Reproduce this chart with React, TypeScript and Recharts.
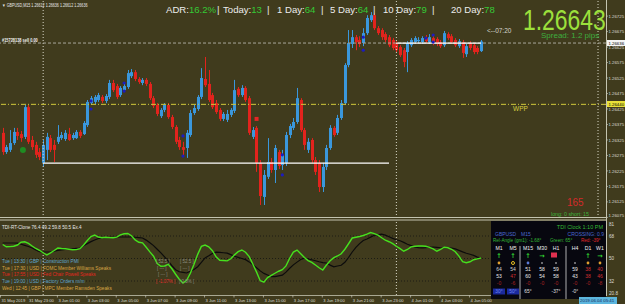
import React from "react";
import {
  ComposedChart,
  LineChart,
  Bar,
  Line,
  Scatter,
  XAxis,
  YAxis,
  ReferenceLine,
} from "recharts";

// GBPUSD M15 bars, 31 May 21:15 .. 4 Jun 05:45
const open = [
  1.26348, 1.26286, 1.26293, 1.26315, 1.26351, 1.26344, 1.26335, 1.26431, 1.26325, 1.26309,
  1.26286, 1.26251, 1.26293, 1.26331, 1.26309, 1.26319, 1.26331, 1.26328, 1.26344, 1.26331,
  1.26331, 1.26351, 1.26344, 1.26373, 1.26444, 1.26448, 1.26454, 1.26464, 1.26451, 1.26464,
  1.26509, 1.26499, 1.2647, 1.26486, 1.26496, 1.26531, 1.26544, 1.26522, 1.26509, 1.26519,
  1.26506, 1.2646, 1.26438, 1.26402, 1.26422, 1.26438, 1.26399, 1.26367, 1.26325, 1.26302,
  1.26299, 1.26341, 1.26412, 1.26425, 1.26464, 1.26522, 1.26506, 1.2647, 1.26444, 1.26422,
  1.26393, 1.2639, 1.26406, 1.26419, 1.2649, 1.2647, 1.26493, 1.2646, 1.26335, 1.26364,
  1.26251, 1.26141, 1.26206, 1.26254, 1.26228, 1.26286, 1.26244, 1.26251, 1.26341, 1.26364,
  1.26383, 1.26454, 1.26357, 1.26293, 1.26325, 1.2626, 1.26251, 1.26173, 1.26238, 1.26299,
  1.26364, 1.26348, 1.26396, 1.26444, 1.26567, 1.26635, 1.26657, 1.26648, 1.26638, 1.2667,
  1.26712, 1.26728, 1.26686, 1.2668, 1.26667, 1.26657, 1.26648, 1.26638, 1.26625, 1.26615,
  1.26609, 1.26631, 1.26641, 1.26644, 1.26641, 1.26654, 1.26641, 1.26654, 1.26651, 1.26641,
  1.26631, 1.26667, 1.2666, 1.26648, 1.26628, 1.26641, 1.26602, 1.26638, 1.26631, 1.26622,
  1.26612,
];
const high = [
  1.26364, 1.26309, 1.26357, 1.26364, 1.26364, 1.26354, 1.26438, 1.26438, 1.26338, 1.26319,
  1.26299, 1.26325, 1.26348, 1.26341, 1.26325, 1.26373, 1.26351, 1.26357, 1.26364, 1.26348,
  1.26357, 1.26357, 1.26386, 1.26454, 1.26467, 1.2647, 1.26477, 1.2647, 1.26473, 1.26519,
  1.26519, 1.26506, 1.26499, 1.26506, 1.26551, 1.26554, 1.26551, 1.26528, 1.26525, 1.26525,
  1.26512, 1.26467, 1.26444, 1.26428, 1.26444, 1.26444, 1.26406, 1.26373, 1.26335, 1.26319,
  1.26357, 1.26422, 1.26438, 1.2647, 1.26557, 1.26593, 1.26551, 1.26477, 1.26454, 1.26428,
  1.26415, 1.26422, 1.26428, 1.26519, 1.26496, 1.26502, 1.26499, 1.26467, 1.26367, 1.2637,
  1.2626, 1.26228, 1.26331, 1.26267, 1.26309, 1.26293, 1.26293, 1.26351, 1.26377, 1.26396,
  1.26493, 1.2646, 1.26364, 1.26331, 1.26331, 1.2627, 1.2626, 1.26251, 1.26309, 1.26373,
  1.2637, 1.26406, 1.26454, 1.26573, 1.2668, 1.2668, 1.26664, 1.2666, 1.26686, 1.26728,
  1.26738, 1.26735, 1.26693, 1.26686, 1.26673, 1.26664, 1.26654, 1.26644, 1.26631, 1.26622,
  1.26644, 1.26654, 1.2666, 1.26657, 1.2666, 1.26664, 1.26667, 1.2666, 1.26657, 1.26648,
  1.26677, 1.26673, 1.26667, 1.26654, 1.26651, 1.26648, 1.26635, 1.26644, 1.26638, 1.26628,
  1.26648,
];
const low = [
  1.26277, 1.2628, 1.26286, 1.26309, 1.26325, 1.26319, 1.26328, 1.26312, 1.26293, 1.26267,
  1.2626, 1.26238, 1.2626, 1.26286, 1.26254, 1.26312, 1.26325, 1.26322, 1.26322, 1.26325,
  1.26328, 1.26331, 1.26341, 1.26367, 1.26438, 1.26441, 1.26448, 1.26444, 1.26444, 1.26457,
  1.2648, 1.26457, 1.26464, 1.2648, 1.2649, 1.26525, 1.26515, 1.26506, 1.26502, 1.26499,
  1.26454, 1.26428, 1.26402, 1.26396, 1.26415, 1.26393, 1.2636, 1.26312, 1.26293, 1.26273,
  1.26267, 1.26335, 1.26406, 1.26419, 1.26457, 1.26496, 1.26448, 1.26425, 1.26409, 1.26386,
  1.26386, 1.26383, 1.26399, 1.26412, 1.26464, 1.26464, 1.26448, 1.26341, 1.26328, 1.26222,
  1.26115, 1.26115, 1.26199, 1.26219, 1.26186, 1.26231, 1.26228, 1.26241, 1.26331, 1.26357,
  1.26377, 1.26351, 1.26293, 1.26283, 1.26251, 1.26212, 1.26157, 1.26157, 1.26228, 1.26293,
  1.26335, 1.26341, 1.2639, 1.26438, 1.2656, 1.26622, 1.26615, 1.26625, 1.26628, 1.26664,
  1.26706, 1.2668, 1.26664, 1.26648, 1.26641, 1.26625, 1.26615, 1.26609, 1.26593, 1.2656,
  1.26544, 1.26625, 1.26635, 1.26638, 1.26635, 1.26638, 1.26635, 1.26631, 1.26628, 1.26622,
  1.26625, 1.26648, 1.26635, 1.26625, 1.26622, 1.2659, 1.26593, 1.26615, 1.26602, 1.26602,
  1.26609,
];
const close = [
  1.26286, 1.26302, 1.26315, 1.26351, 1.26338, 1.26331, 1.26431, 1.26319, 1.26302, 1.26277,
  1.2627, 1.26309, 1.26335, 1.26293, 1.26293, 1.26335, 1.26341, 1.26348, 1.26325, 1.26341,
  1.26351, 1.26338, 1.2638, 1.26448, 1.2646, 1.26464, 1.2647, 1.26451, 1.26467, 1.26509,
  1.26486, 1.26464, 1.26493, 1.26499, 1.26541, 1.26544, 1.26522, 1.26512, 1.26519, 1.26506,
  1.2646, 1.26435, 1.26409, 1.26422, 1.26438, 1.26399, 1.26367, 1.26319, 1.26302, 1.26293,
  1.26348, 1.26412, 1.26428, 1.26464, 1.26525, 1.26502, 1.26454, 1.26431, 1.26415, 1.26393,
  1.26409, 1.26409, 1.26422, 1.26486, 1.2647, 1.26493, 1.26454, 1.26348, 1.26357, 1.26251,
  1.26144, 1.26212, 1.26254, 1.26228, 1.26299, 1.26241, 1.26277, 1.26341, 1.2637, 1.26383,
  1.2646, 1.26357, 1.26309, 1.26319, 1.2626, 1.26222, 1.26173, 1.26238, 1.26299, 1.26364,
  1.26341, 1.26396, 1.26444, 1.26567, 1.26638, 1.26657, 1.26641, 1.26635, 1.2667, 1.26719,
  1.26728, 1.26686, 1.2667, 1.26657, 1.26648, 1.26631, 1.26622, 1.26615, 1.26599, 1.26577,
  1.26638, 1.26648, 1.26654, 1.26648, 1.26654, 1.26644, 1.26657, 1.26638, 1.26635, 1.26628,
  1.2667, 1.26654, 1.26641, 1.26631, 1.26644, 1.26606, 1.26628, 1.26622, 1.26609, 1.26609,
  1.26643,
];

// TDI sub window: price line (green) and signal (black)
const tdiGreen = [
  61.2, 59.4, 59.5, 59.8, 60.8, 63.0, 63.4, 62.1, 60.0, 58.0,
  56.6, 54.6, 52.8, 54.5, 56.4, 58.4, 58.0, 57.8, 57.4, 57.0,
  57.1, 57.9, 60.8, 64.4, 67.5, 68.7, 67.2, 66.6, 67.0, 66.7,
  66.6, 67.1, 68.9, 69.8, 70.0, 68.2, 64.9, 63.0, 62.5, 59.0,
  55.3, 51.8, 45.9, 43.8, 44.0, 45.3, 41.8, 37.4, 33.4, 30.4,
  32.6, 38.2, 45.4, 53.3, 59.7, 60.8, 59.4, 56.2, 51.4, 48.6,
  48.4, 48.1, 49.8, 52.9, 55.5, 56.8, 55.0, 51.5, 45.4, 39.1,
  32.2, 31.0, 34.7, 36.5, 38.2, 39.8, 41.1, 44.1, 50.2, 55.1,
  56.7, 53.8, 50.8, 48.3, 46.9, 44.8, 42.6, 40.8, 44.8, 48.2,
  50.7, 52.0, 53.8, 57.4, 61.8, 66.4, 67.0, 67.6, 68.4, 69.5,
  70.8, 69.9, 68.7, 66.6, 64.6, 63.4, 61.9, 59.8, 57.9, 55.8,
  57.2, 59.3, 59.8, 60.0, 60.0, 59.8, 58.9, 57.7, 55.8, 57.2,
  59.0, 58.6, 57.4, 55.4, 51.9, 47.4, 46.6, 47.4, 49.0, 49.7,
  50.4,
];
const tdiSignal = [
  62.4, 62.4, 62.4, 62.4, 62.3, 61.4, 60.5, 59.6, 58.4, 56.9,
  55.4, 55.2, 55.2, 55.3, 55.8, 56.5, 56.9, 57.2, 57.5, 57.8,
  58.1, 58.4, 60.2, 61.9, 63.5, 64.8, 66.0, 66.5, 66.6, 66.8,
  67.0, 67.2, 67.2, 67.2, 67.2, 67.2, 67.0, 66.7, 66.4, 64.7,
  62.6, 60.3, 57.4, 54.5, 51.3, 47.8, 44.2, 41.0, 39.4, 38.9,
  38.4, 39.8, 41.2, 43.4, 46.9, 50.5, 52.2, 54.0, 55.1, 54.9,
  54.6, 54.3, 53.1, 51.8, 50.9, 50.0, 49.1, 47.3, 45.0, 42.6,
  40.1, 38.1, 36.8, 35.5, 35.5, 36.1, 36.7, 39.1, 42.2, 44.9,
  47.1, 49.2, 50.2, 49.6, 49.0, 48.2, 47.4, 46.7, 46.4, 44.7,
  43.3, 44.0, 44.6, 47.0, 50.8, 55.2, 58.9, 61.9, 64.4, 65.6,
  67.1, 68.6, 69.1, 69.5, 68.7, 67.4, 66.1, 65.0, 64.2, 62.9,
  61.4, 60.3, 59.2, 58.7, 58.5, 58.6, 59.0, 59.2, 58.9, 58.6,
  58.4, 58.4, 58.4, 57.7, 56.5, 55.3, 54.2, 53.4, 52.5, 51.1,
  50.4,
];

// fractal dots (bar index, price)
const fractalIdx = [24, 24, 33, 33, 49, 49, 76, 76, 98, 98, 115, 117, 117];
const fractalPrice = [
  1.26451, 1.26425, 1.26509, 1.26483, 1.26338, 1.26273, 1.26277, 1.26212, 1.26657, 1.26615,
  1.26654, 1.26664, 1.26641,
];

const timeTicks = [0, 7, 15, 23, 31, 39, 47, 55, 63, 71, 79, 87, 95, 103, 111, 119, 127];
const timeLabels = [
  "31 May 2019", "31 May 23:00", "3 Jun 01:00", "3 Jun 03:00", "3 Jun 05:00", "3 Jun 07:00",
  "3 Jun 09:00", "3 Jun 11:00", "3 Jun 13:00", "3 Jun 15:00", "3 Jun 17:00", "3 Jun 19:00",
  "3 Jun 21:00", "3 Jun 23:00", "4 Jun 01:00", "4 Jun 03:00", "4 Jun 05:00",
];
const priceTicks = [
  1.26725, 1.26675, 1.26625, 1.26575, 1.26525, 1.26475, 1.26425, 1.26375, 1.26325, 1.26275,
  1.26225, 1.26175, 1.26125, 1.26075,
];
const tdiTicks = [80.8, 68, 50, 32, 20.8];
const tdiTickLabels = ["81", "68", "50", "32", "20.8"];

const newsText = [
  "Tue  |  13:30  |  GBP  |  Construction PMI",
  "Tue  |  17:30  |  USD  |  FOMC Member Williams Speaks",
  "Tue  |  17:55  |  USD  |  Fed Chair Powell Speaks",
  "Tue  |  19:00  |  USD  |  Factory Orders m/m",
  "Wed  |  12:45  |  GBP  |  MPC Member Ramsden Speaks",
];
const newsColor = ["#5fa6d0", "#d9a544", "#e2261f", "#5fa6d0", "#d9a544"];

const adrLabels = ["ADR:", "Today:", "1 Day:", "5 Day:", "10 Day:", "20 Day:"];
const adrValues = ["16.2%", "13", "64", "64", "79", "78"];
const adrX = [166, 223, 277, 330, 383, 451];
const adrBarX = [217, 267, 321, 373, 432];

const tfCols = ["M1", "M5", "M15", "M30", "H1", "H4", "D1", "W1"];
const tfX = [499, 513, 528, 542, 556, 575, 588, 600];
const tfArrow = ["↑", "↑", "↑", "→", "", "", "↑", "→"];
const tfDot = ["#e0a030", "ring", "#5a7ad8", "#e8e8e8", "#e8e8e8", "#e8e8e8", "#e0a030", "#e0a030"];
const tfRowA = ["64", "54", "51", "58", "59", "59", "38", "40"];
const tfRowAColor = ["#d0d0d0", "#d0d0d0", "#e8e8e8", "#e8e8e8", "#e8e8e8", "#e8e8e8", "#d03030", "#d03030"];
const tfRowB = ["53", "47", "60", "54", "58", "43", "38", "46"];
const tfRowBColor = ["#e8e8e8", "#d03030", "#e8e8e8", "#e8e8e8", "#e8e8e8", "#e8e8e8", "#d03030", "#d03030"];
const tfRowC = ["-0", "-6", "-0", "-0", "-0", "-0", "-0", "-8"];
const tfRowD = ["30°", "50°", "65°", "", "-37°", "-0°", "", ""];

const BG = "#403b1d";
const BULL = "#3a97dc";
const BEAR = "#e2231d";
const AXIS = "#dcdcd4";
const FONT = "'Liberation Sans', Arial, sans-serif";
const XDOM: [number, number] = [-0.73, 163.97];

const candles = open.map((o, i) => ({ i, open: o, high: high[i], low: low[i], close: close[i] }));
const tdi = tdiGreen.map((g, i) => ({ i, green: g, signal: tdiSignal[i] }));
const fractals = fractalIdx.map((i, k) => ({ i, p: fractalPrice[k] }));
const greenDot = [{ i: 5.5, p: 1.26293 }];
const redMark = [{ i: 69, p: 1.26393 }];

const Candle = (props: any) => {
  const { x, y, width, height, payload } = props;
  if (!payload) return null;
  const up = payload.close >= payload.open;
  const color = up ? BULL : BEAR;
  const cx = Math.round(x + width / 2);
  const span = payload.high - payload.low;
  const k = span > 0 ? height / span : 0;
  const top = y + (payload.high - Math.max(payload.open, payload.close)) * k;
  const bot = y + (payload.high - Math.min(payload.open, payload.close)) * k;
  return (
    <g>
      <line x1={cx + 0.5} x2={cx + 0.5} y1={y} y2={y + height} stroke={color} strokeWidth={1} />
      <rect x={cx - 1} y={top} width={3} height={Math.max(1, bot - top)} fill={color} />
    </g>
  );
};

const PriceTick = (props: any) => {
  const { y, payload } = props;
  const last = payload.value === priceTicks[priceTicks.length - 1];
  return (
    <g>
      <line x1={606} x2={608} y1={y} y2={y} stroke={AXIS} strokeWidth={0.6} />
      <text x={608.5} y={last ? y : y + 1.6} fontSize={4.3} fill={AXIS} fontFamily={FONT}>
        {Number(payload.value).toFixed(5)}
      </text>
    </g>
  );
};

const TdiTick = (props: any) => {
  const { y, payload } = props;
  const k = tdiTicks.indexOf(payload.value);
  const dy = k === 0 ? 5.5 : k === tdiTicks.length - 1 ? -0.5 : 1.8;
  return (
    <text x={609} y={y + dy} fontSize={4.6} fill={AXIS} fontFamily={FONT}>
      {tdiTickLabels[k]}
    </text>
  );
};

const TimeTick = (props: any) => {
  const { x, payload } = props;
  const k = timeTicks.indexOf(payload.value);
  const lx = k === 0 ? 0.5 : x - 0.5;
  return (
    <g>
      <line x1={lx} x2={lx} y1={77} y2={79.5} stroke={AXIS} strokeWidth={0.6} />
      <text x={lx + 1} y={84} fontSize={4.1} fill={AXIS} fontFamily={FONT}>
        {timeLabels[k]}
      </text>
    </g>
  );
};

const Overlay = () => (
  <svg width={625} height={304} style={{ position: "absolute", left: 0, top: 0, pointerEvents: "none" }}>
    {/* frame */}
    <line x1={0} x2={606} y1={217.5} y2={217.5} stroke="#c4c4b0" strokeWidth={1} />
    <line x1={0} x2={606} y1={220} y2={220} stroke="#c4c4b0" strokeWidth={1} />
    <line x1={0} x2={606} y1={295.5} y2={295.5} stroke="#c4c4b0" strokeWidth={0.8} />
    <line x1={606.5} x2={606.5} y1={0} y2={296} stroke="#c4c4b0" strokeWidth={1} />

    {/* header */}
    <text transform="translate(2,6.5) scale(0.8,1)" fontSize={4.6} fill="#e8e8e8" fontFamily={FONT}>
      ▼ GBPUSD,M15  1.26612 1.26636 1.26612 1.26636
    </text>
    <text transform="translate(2,41.5) scale(0.85,1)" fontSize={4.6} fontWeight="bold" fill="#f0f0f0" fontFamily={FONT}>
      #15728138 sell 0.00
    </text>
    {adrLabels.map((l, k) => (
      <text key={l} x={adrX[k]} y={12.5} fontSize={9.6} fill="#ececec" fontFamily={FONT}>
        {l}
        <tspan fill="#35c935">{adrValues[k]}</tspan>
      </text>
    ))}
    {adrBarX.map((x, k) => (
      <text key={k} x={x} y={12.5} fontSize={9.6} fill="#ececec" fontFamily={FONT}>|</text>
    ))}
    <text transform="translate(523,30) scale(0.79,1)" fontSize={29} fill="#9ce03c" fontFamily={FONT}>
      1.26643
    </text>
    <text x={541} y={37.5} fontSize={8} fill="#3eae3e" fontFamily={FONT}>Spread: 1.2 pips</text>
    <text x={487} y={33} fontSize={6.5} fill="#d4d4cc" fontFamily={FONT}>{"<--07:20"}</text>

    <text x={513} y={110.5} fontSize={6.5} fill="#d8d040" fontFamily={FONT}>WPP</text>
    <text x={567} y={206} fontSize={10} fill="#d42a2a" fontFamily={FONT}>165</text>
    <text x={551} y={216} fontSize={5.3} fill="#3cb43c" fontFamily={FONT}>long: 0  short: 15</text>

    {/* axis tags */}
    <rect x={607} y={40} width={18} height={6} fill="#f4f4f4" />
    <text x={608.5} y={44.6} fontSize={4.3} fill="#000" fontFamily={FONT}>1.26636</text>
    <rect x={607} y={101} width={18} height={6} fill="#e8e038" />
    <text x={608.5} y={105.6} fontSize={4.3} fill="#000" fontFamily={FONT}>1.26440</text>

    {/* sub window */}
    <text x={2} y={228.5} fontSize={4.6} fill="#e8e8e8" fontFamily={FONT}>TDI-RT-Clone 76.4 49.2 59.8 50.5 Ex.4</text>
    {newsText.map((t, k) => (
      <text key={k} x={2} y={263 + k * 6.7} fontSize={4.7} fill={newsColor[k]} fontFamily={FONT}>{t}</text>
    ))}
    <text x={156} y={263} fontSize={4.5} fill="#8c8c80" fontFamily={FONT}>[ 52.5 ]</text>
    <text x={180} y={263} fontSize={4.5} fill="#8c8c80" fontFamily={FONT}>[ 52.5 ]</text>
    <text x={157} y={269.7} fontSize={4.5} fill="#8c8c80" fontFamily={FONT}>[ --- ]</text>
    <text x={180} y={269.7} fontSize={4.5} fill="#8c8c80" fontFamily={FONT}>[ --- ]</text>
    <text x={158} y={276.4} fontSize={4.5} fill="#8c8c80" fontFamily={FONT}>[ --- ]</text>
    <text x={156} y={283.1} fontSize={4.5} fill="#e03030" fontFamily={FONT}>[ -1.07% ]</text>
    <text x={179} y={283.1} fontSize={4.5} fill="#8c8c80" fontFamily={FONT}>[ 0.5% ]</text>

    {/* TDI clock box */}
    <rect x={491} y={221} width={115} height={78} fill="#07070f" />
    <text x={603} y={229} fontSize={5.5} fill="#34b834" fontFamily={FONT} textAnchor="end">TDI Clock 1:10 PM</text>
    <text x={495} y={236} fontSize={5} fill="#4a68d0" fontFamily={FONT}>GBPUSD</text>
    <text x={521} y={236} fontSize={5} fill="#4a68d0" fontFamily={FONT}>M15</text>
    <text x={604} y={236} fontSize={5} fill="#4a68d0" fontFamily={FONT} textAnchor="end">CROSSING: 0.9</text>
    <text x={493} y={242} fontSize={4.6} fill="#34b834" fontFamily={FONT}>Rel-Angle (gm1): -1.68°</text>
    <text x={550} y={242} fontSize={4.6} fill="#34b834" fontFamily={FONT}>Green: 65°</text>
    <text x={581} y={242} fontSize={4.6} fill="#e02828" fontFamily={FONT}>Red: -39°</text>
    <line x1={520} x2={520} y1={246} y2={299} stroke="#d8d8d8" strokeWidth={0.8} />
    <line x1={566} x2={566} y1={246} y2={299} stroke="#d8d8d8" strokeWidth={0.8} />
    {tfCols.map((c, k) => (
      <g key={c}>
        <text x={tfX[k]} y={250} fontSize={5.2} fill="#f0f0f0" fontFamily={FONT} textAnchor="middle">{c}</text>
        {tfArrow[k] ? (
          <text x={tfX[k]} y={258} fontSize={6.5} fill="#2fd02f" fontFamily="'DejaVu Sans', sans-serif" fontWeight="bold" textAnchor="middle">{tfArrow[k]}</text>
        ) : null}
        {tfDot[k] === "ring" ? (
          <circle cx={tfX[k]} cy={263} r={1.5} fill="none" stroke="#e8c020" strokeWidth={1} />
        ) : (
          <circle cx={tfX[k]} cy={263} r={k >= 3 && k <= 5 ? 0.8 : 1.4} fill={tfDot[k]} />
        )}
        <text x={tfX[k]} y={271} fontSize={5} fill={tfRowAColor[k]} fontFamily={FONT} textAnchor="middle">{tfRowA[k]}</text>
        <text x={tfX[k]} y={278} fontSize={5} fill={tfRowBColor[k]} fontFamily={FONT} textAnchor="middle">{tfRowB[k]}</text>
        <text x={tfX[k]} y={285} fontSize={5} fill="#a82222" fontFamily={FONT} textAnchor="middle">{tfRowC[k]}</text>
        {k < 2 ? <rect x={tfX[k] - 6} y={288.5} width={12} height={6} fill="#1b2a9c" /> : null}
        <text x={tfX[k]} y={293} fontSize={4.8} fill={k < 2 ? "#6d86ee" : "#e0e0e0"} fontFamily={FONT} textAnchor="middle">{tfRowD[k]}</text>
      </g>
    ))}
    <rect x={551} y={252.5} width={6} height={5} fill="#e03050" />

    {/* bottom time tag */}
    <rect x={579} y={297} width={38} height={7} fill="#5cb6de" />
    <text x={580} y={302.3} fontSize={4.4} fill="#1a2a60" fontFamily={FONT}>2019.06.04 05:41</text>
  </svg>
);

export default function App() {
  return (
    <div style={{ position: "absolute", left: 0, top: 0, width: 625, height: 304, background: BG, overflow: "hidden" }}>
      <div style={{ position: "absolute", left: 0, top: 0 }}>
        <ComposedChart width={625} height={218} data={candles} margin={{ top: 0, right: 0, bottom: 0, left: 0 }}>
          <XAxis dataKey="i" type="number" domain={XDOM} allowDataOverflow hide />
          <YAxis
            orientation="right"
            width={19}
            domain={[1.26073, 1.26777]}
            allowDataOverflow
            ticks={priceTicks}
            interval={0}
            tick={<PriceTick />}
            axisLine={false}
            tickLine={false}
          />
          <ReferenceLine x={11} stroke="#d8d8c8" strokeDasharray="1 2" />
          <ReferenceLine x={107} stroke="#d8d8c8" strokeDasharray="1 2" />
          <ReferenceLine x={161.8} stroke="#d8d8c8" strokeDasharray="1 2" />
          <ReferenceLine y={1.26638} stroke="#a8a89a" strokeDasharray="3 2" />
          <ReferenceLine y={1.2644} stroke="#cfc83c" strokeDasharray="5 2 1 2" />
          <ReferenceLine segment={[{ x: 11, y: 1.2625 }, { x: 105, y: 1.2625 }]} stroke="#ffffff" strokeWidth={1.2} />
          <ReferenceLine segment={[{ x: 107, y: 1.26638 }, { x: 130, y: 1.26638 }]} stroke="#ffffff" strokeWidth={1.2} />
          <Bar dataKey={(d: any) => [d.low, d.high]} barSize={3} shape={<Candle />} isAnimationActive={false} />
          <Scatter data={fractals} dataKey="p" isAnimationActive={false}
            shape={(p: any) => <circle cx={p.cx} cy={p.cy} r={1.6} fill="#1c1cc0" />} />
          <Scatter data={greenDot} dataKey="p" isAnimationActive={false}
            shape={(p: any) => <circle cx={p.cx} cy={p.cy} r={3} fill="#1f8c22" />} />
          <Scatter data={redMark} dataKey="p" isAnimationActive={false}
            shape={(p: any) => <rect x={p.cx - 2} y={p.cy - 2} width={4} height={4} fill="#e42626" />} />
        </ComposedChart>
      </div>
      <div style={{ position: "absolute", left: 0, top: 218 }}>
        <LineChart width={625} height={86} data={tdi} margin={{ top: 2, right: 0, bottom: 0, left: 0 }}>
          <XAxis
            dataKey="i"
            type="number"
            domain={XDOM}
            allowDataOverflow
            ticks={timeTicks}
            interval={0}
            height={9}
            tick={<TimeTick />}
            axisLine={false}
            tickLine={false}
          />
          <YAxis
            orientation="right"
            width={19}
            domain={[20.8, 80.8]}
            allowDataOverflow
            ticks={tdiTicks}
            interval={0}
            tick={<TdiTick />}
            axisLine={false}
            tickLine={false}
          />
          <ReferenceLine y={68} stroke="#1c1c14" strokeDasharray="1 2" />
          <ReferenceLine y={50} stroke="#1c1c14" strokeDasharray="1 2" />
          <ReferenceLine y={32} stroke="#1c1c14" strokeDasharray="1 2" />
          <ReferenceLine x={11} stroke="#d8d8c8" strokeDasharray="1 2" />
          <ReferenceLine x={107} stroke="#d8d8c8" strokeDasharray="1 2" />
          <Line dataKey="signal" stroke="#0c0c0c" strokeWidth={1.2} dot={false} isAnimationActive={false} />
          <Line dataKey="green" stroke="#46e01e" strokeWidth={1.4} dot={false} isAnimationActive={false} />
        </LineChart>
      </div>
      <Overlay />
    </div>
  );
}
